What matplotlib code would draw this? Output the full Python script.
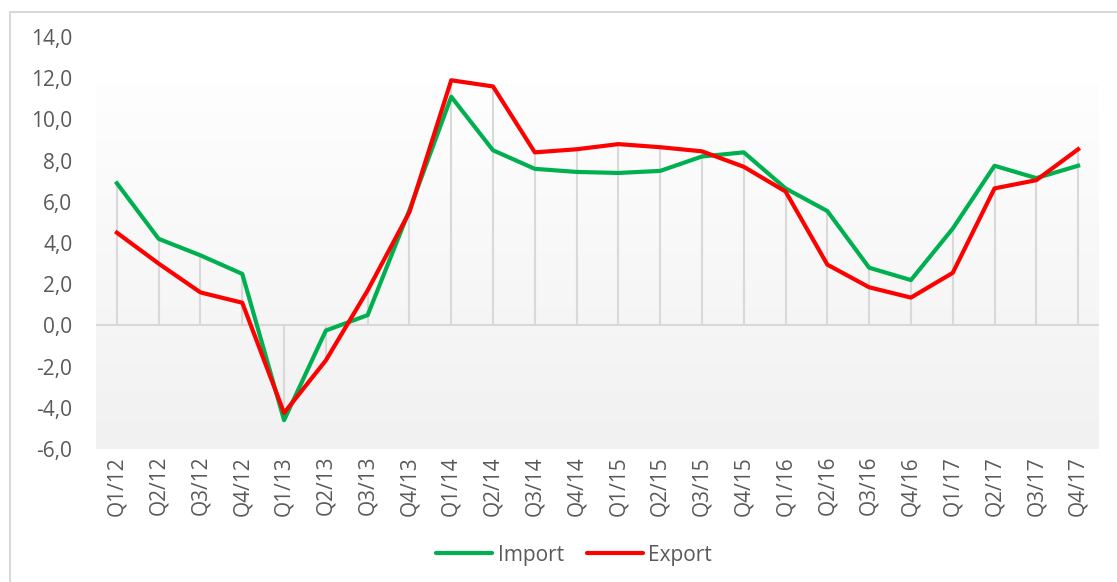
import matplotlib
matplotlib.use('Agg')
import matplotlib.pyplot as plt
import numpy as np
from matplotlib.patches import Rectangle
from matplotlib.lines import Line2D

plt.rcParams['font.family'] = ['Open Sans', 'DejaVu Sans']

quarters = ['Q1/12', 'Q2/12', 'Q3/12', 'Q4/12', 'Q1/13', 'Q2/13', 'Q3/13', 'Q4/13',
            'Q1/14', 'Q2/14', 'Q3/14', 'Q4/14', 'Q1/15', 'Q2/15', 'Q3/15', 'Q4/15',
            'Q1/16', 'Q2/16', 'Q3/16', 'Q4/16', 'Q1/17', 'Q2/17', 'Q3/17', 'Q4/17']
imports = [6.9, 4.2, 3.4, 2.5, -4.6, -0.25, 0.5, 5.6,
           11.1, 8.5, 7.6, 7.45, 7.4, 7.5, 8.2, 8.4,
           6.65, 5.55, 2.8, 2.2, 4.7, 7.75, 7.15, 7.75]
exports = [4.5, 3.0, 1.6, 1.1, -4.25, -1.7, 1.7, 5.5,
           11.9, 11.6, 8.4, 8.55, 8.8, 8.65, 8.45, 7.7,
           6.5, 2.95, 1.85, 1.35, 2.55, 6.65, 7.05, 8.55]
yticks = [-6, -4, -2, 0, 2, 4, 6, 8, 10, 12, 14]

IMPORT_COLOR = '#00B050'
EXPORT_COLOR = '#FF0000'
TEXT_COLOR = '#595959'
LINE_GRAY = '#D9D9D9'
FS = 15

fig = plt.figure(figsize=(11.17, 5.82), dpi=100)
ax = fig.add_axes([96 / 1117, 1 - 449 / 582, (1099 - 96) / 1117, (449 - 37) / 582])

x = np.arange(len(quarters))

# plot area gradient (white at top, light gray at bottom)
grad = np.linspace(0, 1, 256).reshape(-1, 1)
top_c = np.array([0xFE, 0xFE, 0xFE]) / 255
bot_c = np.array([0xF1, 0xF1, 0xF1]) / 255
img = top_c * (1 - grad[..., None]) + bot_c * grad[..., None]
img = img.reshape(256, 1, 3)
ax.imshow(img, extent=[-0.5, len(quarters) - 0.5, -6, 11.7], aspect='auto',
          origin='upper', zorder=0)

# drop lines
for i in range(len(quarters)):
    hi = max(imports[i], exports[i])
    lo = min(imports[i], exports[i])
    end = hi if hi > 0 else lo
    ax.plot([x[i], x[i]], [0, end], color=LINE_GRAY, lw=1.5, zorder=1)

ax.axhline(0, color=LINE_GRAY, lw=1.5, zorder=1)

ax.plot(x, imports, color=IMPORT_COLOR, lw=3, solid_joinstyle='round', zorder=3)
ax.plot(x, exports, color=EXPORT_COLOR, lw=3, solid_joinstyle='round', zorder=4)

ax.set_xlim(-0.5, len(quarters) - 0.5)
ax.set_ylim(-6, 14)
ax.set_yticks(yticks)
ax.set_yticklabels([f'{v:.1f}'.replace('.', ',') for v in yticks],
                   color=TEXT_COLOR, fontsize=FS)
ax.set_xticks(x)
ax.set_xticklabels(quarters, rotation=90, color=TEXT_COLOR, fontsize=FS)
ax.tick_params(axis='both', length=0)
ax.tick_params(axis='y', pad=17)
ax.tick_params(axis='x', pad=5)
for s in ax.spines.values():
    s.set_visible(False)

handles = [Line2D([0], [0], color=IMPORT_COLOR, lw=3, solid_capstyle='round'),
           Line2D([0], [0], color=EXPORT_COLOR, lw=3, solid_capstyle='round')]
leg = fig.legend(handles, ['Import', 'Export'], loc='center',
                 bbox_to_anchor=(574 / 1117, 1 - 555 / 582), ncol=2, frameon=False,
                 fontsize=FS, handlelength=2.7, handletextpad=0.25, columnspacing=1.1)
for t in leg.get_texts():
    t.set_color(TEXT_COLOR)

# outer chart border
fig.patches.append(Rectangle((10 / 1117, -0.1), 1.2, 1 - 12 / 582 + 0.1,
                             transform=fig.transFigure, fill=False,
                             edgecolor='#D9D9D9', lw=1.5))

fig.savefig('out.png', dpi=100)
